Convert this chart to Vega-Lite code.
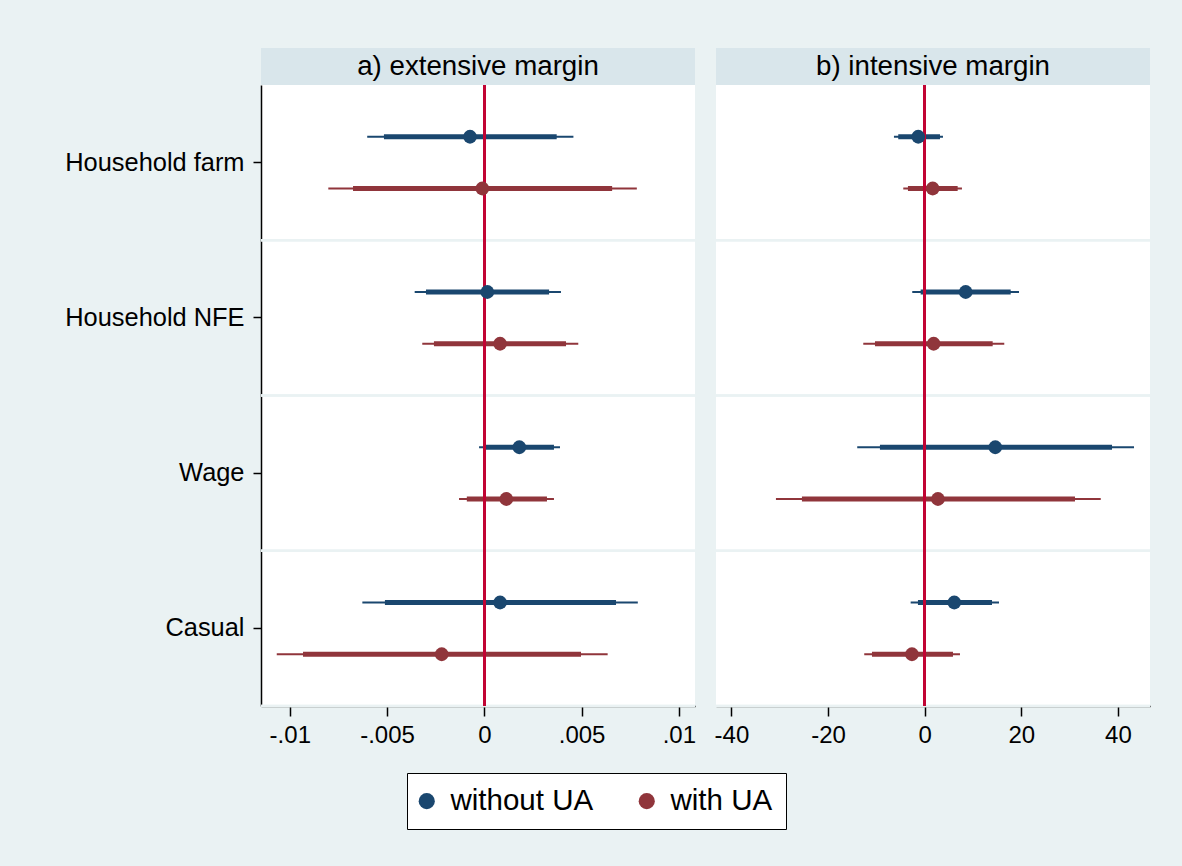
{
  "$schema": "https://vega.github.io/schema/vega-lite/v6.json",
  "background": "#eaf2f3",
  "padding": {"left": 64, "top": 48, "right": 32, "bottom": 37},
  "autosize": {"type": "pad"},
  "config": {
    "font": "Liberation Sans",
    "view": {"stroke": null},
    "axis": {"domainColor": "black", "domainWidth": 1.5, "tickColor": "black", "tickWidth": 1.5, "labelFontSize": 24, "labelColor": "black", "labelFont": "Liberation Sans", "grid": false, "title": null}
  },
  "datasets": {
    "coef": [
      {"panel": "a", "cat": "Household farm", "series": "without UA", "b": -0.000735, "lo95": -0.00516, "hi95": 0.00372, "lo99": -0.00602, "hi99": 0.00458},
      {"panel": "a", "cat": "Household farm", "series": "with UA", "b": -0.000103, "lo95": -0.00675, "hi95": 0.00657, "lo99": -0.00802, "hi99": 0.00784},
      {"panel": "a", "cat": "Household NFE", "series": "without UA", "b": 0.000154, "lo95": -0.0030, "hi95": 0.00333, "lo99": -0.00358, "hi99": 0.00394},
      {"panel": "a", "cat": "Household NFE", "series": "with UA", "b": 0.00081, "lo95": -0.00259, "hi95": 0.0042, "lo99": -0.00319, "hi99": 0.00483},
      {"panel": "a", "cat": "Wage", "series": "without UA", "b": 0.0018, "lo95": 0.00002, "hi95": 0.00358, "lo99": -0.00027, "hi99": 0.00389},
      {"panel": "a", "cat": "Wage", "series": "with UA", "b": 0.00113, "lo95": -0.0009, "hi95": 0.00322, "lo99": -0.0013, "hi99": 0.00358},
      {"panel": "a", "cat": "Casual", "series": "without UA", "b": 0.00081, "lo95": -0.00511, "hi95": 0.00677, "lo99": -0.00627, "hi99": 0.00789},
      {"panel": "a", "cat": "Casual", "series": "with UA", "b": -0.00219, "lo95": -0.00932, "hi95": 0.00497, "lo99": -0.01067, "hi99": 0.00634},
      {"panel": "b", "cat": "Household farm", "series": "without UA", "b": -1.33, "lo95": -5.47, "hi95": 3.17, "lo99": -6.36, "hi99": 3.79},
      {"panel": "b", "cat": "Household farm", "series": "with UA", "b": 1.66, "lo95": -3.46, "hi95": 6.83, "lo99": -4.43, "hi99": 7.72},
      {"panel": "b", "cat": "Household NFE", "series": "without UA", "b": 8.49, "lo95": -0.83, "hi95": 17.81, "lo99": -2.57, "hi99": 19.53},
      {"panel": "b", "cat": "Household NFE", "series": "with UA", "b": 1.86, "lo95": -10.29, "hi95": 14.08, "lo99": -12.71, "hi99": 16.48},
      {"panel": "b", "cat": "Wage", "series": "without UA", "b": 14.62, "lo95": -9.26, "hi95": 38.79, "lo99": -13.96, "hi99": 43.34},
      {"panel": "b", "cat": "Wage", "series": "with UA", "b": 2.75, "lo95": -25.41, "hi95": 31.12, "lo99": -30.79, "hi99": 36.45},
      {"panel": "b", "cat": "Casual", "series": "without UA", "b": 6.13, "lo95": -1.39, "hi95": 13.94, "lo99": -2.90, "hi99": 15.39},
      {"panel": "b", "cat": "Casual", "series": "with UA", "b": -2.63, "lo95": -10.91, "hi95": 5.86, "lo99": -12.51, "hi99": 7.31}
    ]
  },
  "columns": 2,
  "spacing": {"row": 0, "column": 21},
  "bounds": "flush",
  "resolve": {"scale": {"color": "shared"}, "legend": {"color": "shared"}},
  "concat": [
    {
      "data": {"values": [{"label": "a) extensive margin"}]},
      "width": 434, "height": 37,
      "view": {"fill": "#d9e6eb", "stroke": null},
      "mark": {"type": "text", "fontSize": 27.7, "color": "black", "baseline": "middle", "align": "center"},
      "encoding": {"text": {"field": "label"}}
    },
    {
      "data": {"values": [{"label": "b) intensive margin"}]},
      "width": 434, "height": 37,
      "view": {"fill": "#d9e6eb", "stroke": null},
      "mark": {"type": "text", "fontSize": 27.7, "color": "black", "baseline": "middle", "align": "center"},
      "encoding": {"text": {"field": "label"}}
    },
    {
      "width": 434, "height": 621,
      "view": {"fill": "white", "stroke": null},
      "data": {"name": "coef"},
      "transform": [{"filter": "datum.panel == 'a'"}],
      "layer": [
        {
          "mark": {"type": "rule", "color": "#eaf2f3", "strokeWidth": 2.7},
          "encoding": {
            "y": {"field": "cat", "type": "nominal", "bandPosition": 1, "scale": {"domain": ["Household farm", "Household NFE", "Wage", "Casual"], "paddingInner": 0, "paddingOuter": 0}, "axis": {"tickSize": 8, "labelPadding": 9, "labelFontSize": 25.4}}
          }
        },
        {
          "transform": [{"filter": "datum.series == 'without UA'"}],
          "mark": {"type": "rule", "strokeWidth": 2, "color": "#1a476f"},
          "encoding": {
            "y": {"field": "cat", "type": "nominal", "scale": {"domain": ["Household farm", "Household NFE", "Wage", "Casual"], "paddingInner": 0, "paddingOuter": 0}, "axis": {"tickSize": 8, "labelPadding": 9, "labelFontSize": 25.4}},
            "yOffset": {"field": "series", "type": "nominal", "scale": {"domain": ["without UA", "with UA"], "paddingInner": 0, "paddingOuter": 0.5}},
            "x": {"field": "lo99", "type": "quantitative", "scale": {"domain": [-0.01148, 0.01083], "nice": false, "zero": false}, "axis": {"values": [-0.01, -0.005, 0, 0.005, 0.01], "tickSize": 10, "labelPadding": 7, "labelExpr": "datum.value == 0 ? '0' : (datum.value < 0 ? '-' : '') + replace(toString(abs(datum.value)), '0.', '.')"}},
            "x2": {"field": "hi99"}
          }
        },
        {
          "transform": [{"filter": "datum.series == 'with UA'"}],
          "mark": {"type": "rule", "strokeWidth": 2, "color": "#90353b"},
          "encoding": {
            "y": {"field": "cat", "type": "nominal", "scale": {"domain": ["Household farm", "Household NFE", "Wage", "Casual"], "paddingInner": 0, "paddingOuter": 0}, "axis": {"tickSize": 8, "labelPadding": 9, "labelFontSize": 25.4}},
            "yOffset": {"field": "series", "type": "nominal", "scale": {"domain": ["without UA", "with UA"], "paddingInner": 0, "paddingOuter": 0.5}},
            "x": {"field": "lo99", "type": "quantitative", "scale": {"domain": [-0.01148, 0.01083], "nice": false, "zero": false}, "axis": {"values": [-0.01, -0.005, 0, 0.005, 0.01], "tickSize": 10, "labelPadding": 7, "labelExpr": "datum.value == 0 ? '0' : (datum.value < 0 ? '-' : '') + replace(toString(abs(datum.value)), '0.', '.')"}},
            "x2": {"field": "hi99"}
          }
        },
        {
          "transform": [{"filter": "datum.series == 'without UA'"}],
          "mark": {"type": "rule", "strokeWidth": 5, "color": "#1a476f"},
          "encoding": {
            "y": {"field": "cat", "type": "nominal", "scale": {"domain": ["Household farm", "Household NFE", "Wage", "Casual"], "paddingInner": 0, "paddingOuter": 0}, "axis": {"tickSize": 8, "labelPadding": 9, "labelFontSize": 25.4}},
            "yOffset": {"field": "series", "type": "nominal", "scale": {"domain": ["without UA", "with UA"], "paddingInner": 0, "paddingOuter": 0.5}},
            "x": {"field": "lo95", "type": "quantitative", "scale": {"domain": [-0.01148, 0.01083], "nice": false, "zero": false}, "axis": {"values": [-0.01, -0.005, 0, 0.005, 0.01], "tickSize": 10, "labelPadding": 7, "labelExpr": "datum.value == 0 ? '0' : (datum.value < 0 ? '-' : '') + replace(toString(abs(datum.value)), '0.', '.')"}},
            "x2": {"field": "hi95"}
          }
        },
        {
          "transform": [{"filter": "datum.series == 'with UA'"}],
          "mark": {"type": "rule", "strokeWidth": 5, "color": "#90353b"},
          "encoding": {
            "y": {"field": "cat", "type": "nominal", "scale": {"domain": ["Household farm", "Household NFE", "Wage", "Casual"], "paddingInner": 0, "paddingOuter": 0}, "axis": {"tickSize": 8, "labelPadding": 9, "labelFontSize": 25.4}},
            "yOffset": {"field": "series", "type": "nominal", "scale": {"domain": ["without UA", "with UA"], "paddingInner": 0, "paddingOuter": 0.5}},
            "x": {"field": "lo95", "type": "quantitative", "scale": {"domain": [-0.01148, 0.01083], "nice": false, "zero": false}, "axis": {"values": [-0.01, -0.005, 0, 0.005, 0.01], "tickSize": 10, "labelPadding": 7, "labelExpr": "datum.value == 0 ? '0' : (datum.value < 0 ? '-' : '') + replace(toString(abs(datum.value)), '0.', '.')"}},
            "x2": {"field": "hi95"}
          }
        },
        {
          "mark": {"type": "rule", "color": "#c10534", "strokeWidth": 2.5},
          "encoding": {
            "x": {"datum": 0, "type": "quantitative", "scale": {"domain": [-0.01148, 0.01083], "nice": false, "zero": false}, "axis": {"values": [-0.01, -0.005, 0, 0.005, 0.01], "tickSize": 10, "labelPadding": 7, "labelExpr": "datum.value == 0 ? '0' : (datum.value < 0 ? '-' : '') + replace(toString(abs(datum.value)), '0.', '.')"}}
          }
        },
        {
          "mark": {"type": "point", "shape": "circle", "filled": true, "size": 190, "opacity": 1},
          "encoding": {
            "y": {"field": "cat", "type": "nominal", "scale": {"domain": ["Household farm", "Household NFE", "Wage", "Casual"], "paddingInner": 0, "paddingOuter": 0}, "axis": {"tickSize": 8, "labelPadding": 9, "labelFontSize": 25.4}},
            "yOffset": {"field": "series", "type": "nominal", "scale": {"domain": ["without UA", "with UA"], "paddingInner": 0, "paddingOuter": 0.5}},
            "x": {"field": "b", "type": "quantitative", "scale": {"domain": [-0.01148, 0.01083], "nice": false, "zero": false}, "axis": {"values": [-0.01, -0.005, 0, 0.005, 0.01], "tickSize": 10, "labelPadding": 7, "labelExpr": "datum.value == 0 ? '0' : (datum.value < 0 ? '-' : '') + replace(toString(abs(datum.value)), '0.', '.')"}},
            "color": {"field": "series", "type": "nominal", "scale": {"domain": ["without UA", "with UA"], "range": ["#1a476f", "#90353b"]},
              "legend": {"title": null, "orient": "none", "legendX": 146, "legendY": 725, "direction": "horizontal", "symbolType": "circle", "symbolSize": 260, "symbolStrokeWidth": 0, "symbolOffset": -8, "labelFontSize": 29.5, "labelColor": "black", "labelOffset": 9, "columnPadding": 44, "padding": 13, "fillColor": "white", "strokeColor": "black"}}
          }
        }
      ]
    },
    {
      "width": 434, "height": 621,
      "view": {"fill": "white", "stroke": null},
      "data": {"name": "coef"},
      "transform": [{"filter": "datum.panel == 'b'"}],
      "layer": [
        {
          "mark": {"type": "rule", "color": "#eaf2f3", "strokeWidth": 2.7},
          "encoding": {
            "y": {"field": "cat", "type": "nominal", "bandPosition": 1, "scale": {"domain": ["Household farm", "Household NFE", "Wage", "Casual"], "paddingInner": 0, "paddingOuter": 0}, "axis": null}
          }
        },
        {
          "transform": [{"filter": "datum.series == 'without UA'"}],
          "mark": {"type": "rule", "strokeWidth": 2, "color": "#1a476f"},
          "encoding": {
            "y": {"field": "cat", "type": "nominal", "scale": {"domain": ["Household farm", "Household NFE", "Wage", "Casual"], "paddingInner": 0, "paddingOuter": 0}, "axis": null},
            "yOffset": {"field": "series", "type": "nominal", "scale": {"domain": ["without UA", "with UA"], "paddingInner": 0, "paddingOuter": 0.5}},
            "x": {"field": "lo99", "type": "quantitative", "scale": {"domain": [-43.2, 46.65], "nice": false, "zero": false}, "axis": {"values": [-40, -20, 0, 20, 40], "tickSize": 10, "labelPadding": 7, "labelExpr": "(datum.value < 0 ? '-' : '') + abs(datum.value)"}},
            "x2": {"field": "hi99"}
          }
        },
        {
          "transform": [{"filter": "datum.series == 'with UA'"}],
          "mark": {"type": "rule", "strokeWidth": 2, "color": "#90353b"},
          "encoding": {
            "y": {"field": "cat", "type": "nominal", "scale": {"domain": ["Household farm", "Household NFE", "Wage", "Casual"], "paddingInner": 0, "paddingOuter": 0}, "axis": null},
            "yOffset": {"field": "series", "type": "nominal", "scale": {"domain": ["without UA", "with UA"], "paddingInner": 0, "paddingOuter": 0.5}},
            "x": {"field": "lo99", "type": "quantitative", "scale": {"domain": [-43.2, 46.65], "nice": false, "zero": false}, "axis": {"values": [-40, -20, 0, 20, 40], "tickSize": 10, "labelPadding": 7, "labelExpr": "(datum.value < 0 ? '-' : '') + abs(datum.value)"}},
            "x2": {"field": "hi99"}
          }
        },
        {
          "transform": [{"filter": "datum.series == 'without UA'"}],
          "mark": {"type": "rule", "strokeWidth": 5, "color": "#1a476f"},
          "encoding": {
            "y": {"field": "cat", "type": "nominal", "scale": {"domain": ["Household farm", "Household NFE", "Wage", "Casual"], "paddingInner": 0, "paddingOuter": 0}, "axis": null},
            "yOffset": {"field": "series", "type": "nominal", "scale": {"domain": ["without UA", "with UA"], "paddingInner": 0, "paddingOuter": 0.5}},
            "x": {"field": "lo95", "type": "quantitative", "scale": {"domain": [-43.2, 46.65], "nice": false, "zero": false}, "axis": {"values": [-40, -20, 0, 20, 40], "tickSize": 10, "labelPadding": 7, "labelExpr": "(datum.value < 0 ? '-' : '') + abs(datum.value)"}},
            "x2": {"field": "hi95"}
          }
        },
        {
          "transform": [{"filter": "datum.series == 'with UA'"}],
          "mark": {"type": "rule", "strokeWidth": 5, "color": "#90353b"},
          "encoding": {
            "y": {"field": "cat", "type": "nominal", "scale": {"domain": ["Household farm", "Household NFE", "Wage", "Casual"], "paddingInner": 0, "paddingOuter": 0}, "axis": null},
            "yOffset": {"field": "series", "type": "nominal", "scale": {"domain": ["without UA", "with UA"], "paddingInner": 0, "paddingOuter": 0.5}},
            "x": {"field": "lo95", "type": "quantitative", "scale": {"domain": [-43.2, 46.65], "nice": false, "zero": false}, "axis": {"values": [-40, -20, 0, 20, 40], "tickSize": 10, "labelPadding": 7, "labelExpr": "(datum.value < 0 ? '-' : '') + abs(datum.value)"}},
            "x2": {"field": "hi95"}
          }
        },
        {
          "mark": {"type": "rule", "color": "#c10534", "strokeWidth": 2.5},
          "encoding": {
            "x": {"datum": 0, "type": "quantitative", "scale": {"domain": [-43.2, 46.65], "nice": false, "zero": false}, "axis": {"values": [-40, -20, 0, 20, 40], "tickSize": 10, "labelPadding": 7, "labelExpr": "(datum.value < 0 ? '-' : '') + abs(datum.value)"}}
          }
        },
        {
          "mark": {"type": "point", "shape": "circle", "filled": true, "size": 190, "opacity": 1},
          "encoding": {
            "y": {"field": "cat", "type": "nominal", "scale": {"domain": ["Household farm", "Household NFE", "Wage", "Casual"], "paddingInner": 0, "paddingOuter": 0}, "axis": null},
            "yOffset": {"field": "series", "type": "nominal", "scale": {"domain": ["without UA", "with UA"], "paddingInner": 0, "paddingOuter": 0.5}},
            "x": {"field": "b", "type": "quantitative", "scale": {"domain": [-43.2, 46.65], "nice": false, "zero": false}, "axis": {"values": [-40, -20, 0, 20, 40], "tickSize": 10, "labelPadding": 7, "labelExpr": "(datum.value < 0 ? '-' : '') + abs(datum.value)"}},
            "color": {"field": "series", "type": "nominal", "scale": {"domain": ["without UA", "with UA"], "range": ["#1a476f", "#90353b"]},
              "legend": {"title": null, "orient": "none", "legendX": 146, "legendY": 725, "direction": "horizontal", "symbolType": "circle", "symbolSize": 260, "symbolStrokeWidth": 0, "symbolOffset": -8, "labelFontSize": 29.5, "labelColor": "black", "labelOffset": 9, "columnPadding": 44, "padding": 13, "fillColor": "white", "strokeColor": "black"}}
          }
        }
      ]
    }
  ]
}
